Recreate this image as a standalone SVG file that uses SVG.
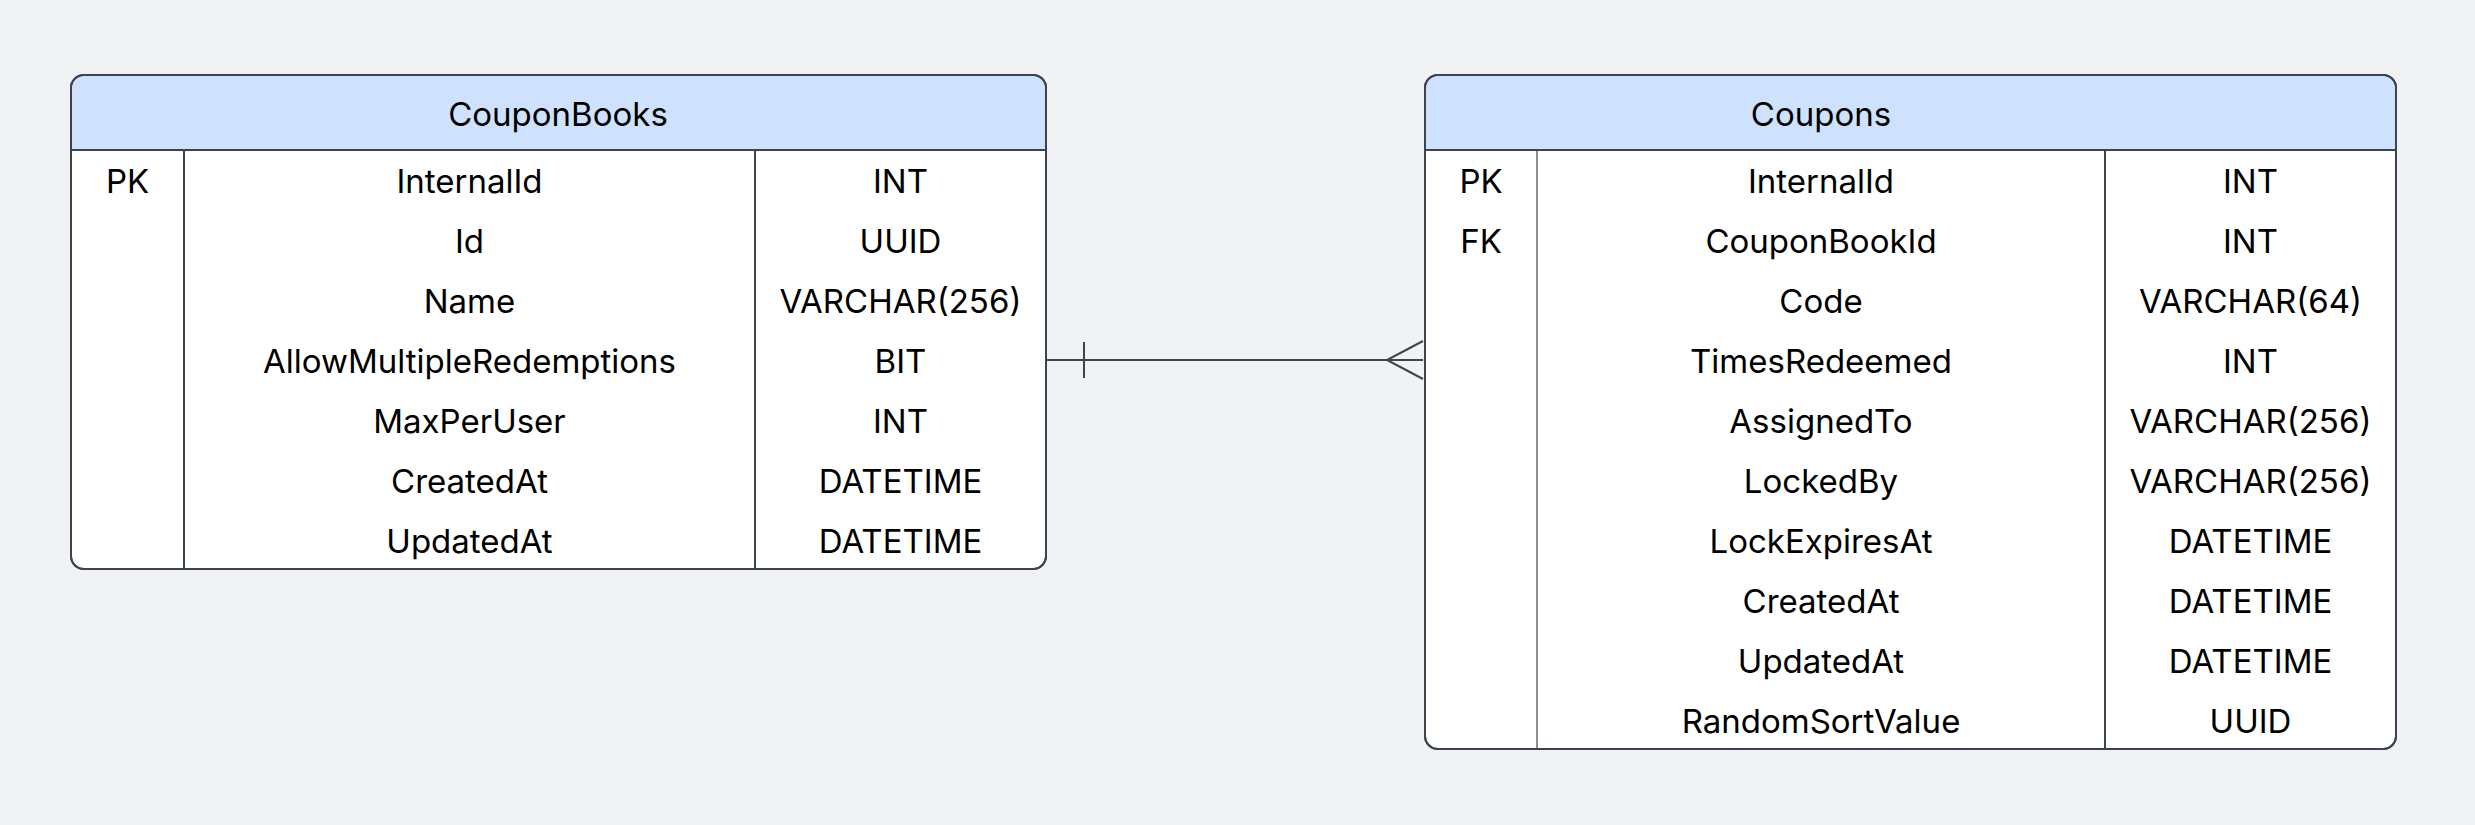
<svg xmlns="http://www.w3.org/2000/svg" width="2475" height="825" viewBox="0 0 2475 825">
<style>
.bg{fill:#f1f2f4}
.box{fill:#ffffff;stroke:#3d434f;stroke-width:2}
.hdr{fill:#cfe2fd}
.ln{stroke:#3d434f;stroke-width:2;fill:none}
.thin{stroke:#3d434f;stroke-width:1.2;fill:none}
text{font-family:Inter,"Noto Sans","Liberation Sans",sans-serif;font-size:33px;fill:#000;text-anchor:middle;dominant-baseline:central}
</style>
<rect class="bg" x="0" y="0" width="2475" height="825"/>
<g id="CouponBooks">
<rect class="box" x="71" y="75" width="975" height="494" rx="13"/>
<path class="hdr" d="M84,76 H1033 A12,12 0 0 1 1045,88 V149 H72 V88 A12,12 0 0 1 84,76 Z"/>
<rect x="71" y="75" width="975" height="494" rx="13" fill="none" stroke="#3d434f" stroke-width="2"/>
<line class="ln" x1="71" y1="150" x2="1046" y2="150"/>
<line class="ln" x1="184" y1="150" x2="184" y2="569"/>
<line class="ln" x1="755" y1="150" x2="755" y2="569"/>
<text x="558" y="114">CouponBooks</text>
<text x="127.5" y="181">PK</text>
<text x="469.5" y="181">InternalId</text><text x="900.5" y="181">INT</text>
<text x="469.5" y="241">Id</text><text x="900.5" y="241">UUID</text>
<text x="469.5" y="301">Name</text><text x="900.5" y="301">VARCHAR(256)</text>
<text x="469.5" y="361">AllowMultipleRedemptions</text><text x="900.5" y="361">BIT</text>
<text x="469.5" y="421">MaxPerUser</text><text x="900.5" y="421">INT</text>
<text x="469.5" y="481">CreatedAt</text><text x="900.5" y="481">DATETIME</text>
<text x="469.5" y="541">UpdatedAt</text><text x="900.5" y="541">DATETIME</text>
</g>
<g id="Coupons">
<rect class="box" x="1425" y="75" width="971" height="674" rx="13"/>
<path class="hdr" d="M1438,76 H2383 A12,12 0 0 1 2395,88 V149 H1426 V88 A12,12 0 0 1 1438,76 Z"/>
<rect x="1425" y="75" width="971" height="674" rx="13" fill="none" stroke="#3d434f" stroke-width="2"/>
<line class="ln" x1="1425" y1="150" x2="2396" y2="150"/>
<line class="thin" x1="1537" y1="150" x2="1537" y2="749"/>
<line class="ln" x1="2105" y1="150" x2="2105" y2="749"/>
<text x="1821" y="114">Coupons</text>
<text x="1481" y="181">PK</text>
<text x="1481" y="241">FK</text>
<text x="1821" y="181">InternalId</text><text x="2250.5" y="181">INT</text>
<text x="1821" y="241">CouponBookId</text><text x="2250.5" y="241">INT</text>
<text x="1821" y="301">Code</text><text x="2250.5" y="301">VARCHAR(64)</text>
<text x="1821" y="361">TimesRedeemed</text><text x="2250.5" y="361">INT</text>
<text x="1821" y="421">AssignedTo</text><text x="2250.5" y="421">VARCHAR(256)</text>
<text x="1821" y="481">LockedBy</text><text x="2250.5" y="481">VARCHAR(256)</text>
<text x="1821" y="541">LockExpiresAt</text><text x="2250.5" y="541">DATETIME</text>
<text x="1821" y="601">CreatedAt</text><text x="2250.5" y="601">DATETIME</text>
<text x="1821" y="661">UpdatedAt</text><text x="2250.5" y="661">DATETIME</text>
<text x="1821" y="721">RandomSortValue</text><text x="2250.5" y="721">UUID</text>
</g>
<g id="connectors">
<line class="ln" x1="1046" y1="360" x2="1423" y2="360"/>
<line class="ln" x1="1084" y1="342" x2="1084" y2="378"/>
<polyline class="ln" points="1423,341 1387,360 1423,379"/>
</g>
</svg>
